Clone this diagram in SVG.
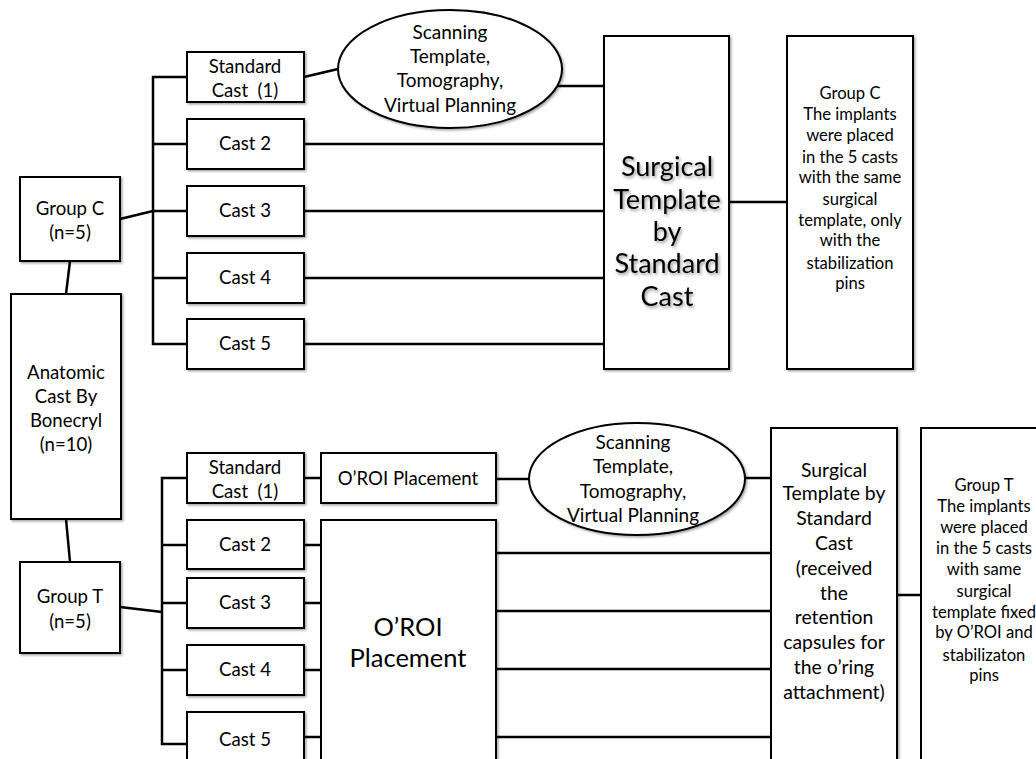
<svg xmlns="http://www.w3.org/2000/svg" width="1036" height="759" viewBox="0 0 1036 759">
<defs>
<filter id="sh" x="-10%" y="-10%" width="130%" height="130%">
<feDropShadow dx="1.5" dy="1.5" stdDeviation="1.2" flood-color="#000" flood-opacity="0.35"/>
</filter>
<filter id="tsh" x="-10%" y="-10%" width="130%" height="130%">
<feDropShadow dx="1.5" dy="2" stdDeviation="1.5" flood-color="#000" flood-opacity="0.4"/>
</filter>
</defs>
<style>
.b{fill:#fff;stroke:#000;stroke-width:2;filter:url(#sh)}
.c{fill:none;stroke:#000;stroke-width:2.5}
text{font-family:Lato,"Open Sans","Liberation Sans",sans-serif;fill:#000;text-anchor:middle;white-space:pre}
.t16{font-size:18.6px}
.e{font-size:19px}
.t14{font-size:16.6px}
.t18{font-size:19.4px}
.big{font-size:27px;filter:url(#tsh)}
.big2{font-size:25.5px}
</style>
<rect width="1036" height="759" fill="#fff"/>
<g id="connectors">
<line class="c" x1="70" y1="261" x2="66" y2="294"/>
<line class="c" x1="66" y1="519" x2="70" y2="562"/>
<path class="c" d="M187 77H153V344H187M153 144H187M153 211H187M153 278H187"/>
<line class="c" x1="120" y1="219" x2="153" y2="211"/>
<line class="c" x1="304" y1="77" x2="338" y2="69"/>
<line class="c" x1="556" y1="86" x2="604" y2="86"/>
<path class="c" d="M304 144H604M304 211H604M304 278H604M304 344H604"/>
<line class="c" x1="729" y1="202" x2="787" y2="202"/>
<path class="c" d="M187 478H162V744H187M162 545H187M162 603H187M162 670H187"/>
<line class="c" x1="120" y1="607" x2="162" y2="612"/>
<path class="c" d="M304 478H321M304 545H321M304 603H321M304 670H321M304 737H321"/>
<line class="c" x1="496" y1="479" x2="530" y2="479"/>
<path class="c" d="M496 553H771M496 611H771M496 669H771M496 737H771"/>
<line class="c" x1="745" y1="478" x2="771" y2="478"/>
<line class="c" x1="897" y1="595" x2="921" y2="595"/>
</g>
<g id="groupC">
<rect class="b" x="20" y="177" width="100" height="84"/>
<text class="t16" x="70" y="215">Group C</text>
<text class="t16" x="70" y="239">(n=5)</text>
</g>
<g id="anatomic">
<rect class="b" x="11" y="294" width="110" height="225"/>
<text class="t16" x="66" y="379">Anatomic</text>
<text class="t16" x="66" y="403">Cast By</text>
<text class="t16" x="66" y="427">Bonecryl</text>
<text class="t16" x="66" y="451">(n=10)</text>
</g>
<g id="groupT">
<rect class="b" x="20" y="562" width="100" height="91"/>
<text class="t16" x="70" y="603">Group T</text>
<text class="t16" x="70" y="628">(n=5)</text>
</g>
<g id="c1">
<rect class="b" x="187" y="52" width="117" height="50"/>
<text class="t16" x="245" y="73">Standard</text>
<text class="t16" x="245" y="97">Cast  (1)</text>
</g>
<g id="c2"><rect class="b" x="187" y="119" width="117" height="50"/><text class="t16" x="245" y="150">Cast 2</text></g>
<g id="c3"><rect class="b" x="187" y="186" width="117" height="50"/><text class="t16" x="245" y="217">Cast 3</text></g>
<g id="c4"><rect class="b" x="187" y="253" width="117" height="50"/><text class="t16" x="245" y="284">Cast 4</text></g>
<g id="c5"><rect class="b" x="187" y="319" width="117" height="50"/><text class="t16" x="245" y="350">Cast 5</text></g>
<g id="scanC">
<ellipse class="b" cx="450" cy="69" rx="112" ry="59"/>
<text class="e" x="450" y="39">Scanning</text>
<text class="e" x="450" y="63">Template,</text>
<text class="e" x="450" y="87">Tomography,</text>
<text class="e" x="450" y="112">Virtual Planning</text>
</g>
<g id="surgC">
<rect class="b" x="604" y="36" width="125" height="333"/>
<text class="big" x="667" y="176">Surgical</text>
<text class="big" x="667" y="209">Template</text>
<text class="big" x="667" y="241">by</text>
<text class="big" x="667" y="273">Standard</text>
<text class="big" x="667" y="306">Cast</text>
</g>
<g id="resC">
<rect class="b" x="787" y="36" width="126" height="333"/>
<text class="t14" x="850" y="99">Group C</text>
<text class="t14" x="850" y="120">The implants</text>
<text class="t14" x="850" y="141">were placed</text>
<text class="t14" x="850" y="163">in the 5 casts</text>
<text class="t14" x="850" y="183">with the same</text>
<text class="t14" x="850" y="205">surgical</text>
<text class="t14" x="850" y="226">template, only</text>
<text class="t14" x="850" y="246">with the</text>
<text class="t14" x="850" y="269">stabilization</text>
<text class="t14" x="850" y="289">pins</text>
</g>
<g id="t1">
<rect class="b" x="187" y="453" width="117" height="50"/>
<text class="t16" x="245" y="474">Standard</text>
<text class="t16" x="245" y="498">Cast  (1)</text>
</g>
<g id="t2"><rect class="b" x="187" y="520" width="117" height="49"/><text class="t16" x="245" y="551">Cast 2</text></g>
<g id="t3"><rect class="b" x="187" y="578" width="117" height="50"/><text class="t16" x="245" y="609">Cast 3</text></g>
<g id="t4"><rect class="b" x="187" y="645" width="117" height="50"/><text class="t16" x="245" y="676">Cast 4</text></g>
<g id="t5"><rect class="b" x="187" y="712" width="117" height="50"/><text class="t16" x="245" y="746">Cast 5</text></g>
<g id="oroiSmall">
<rect class="b" x="321" y="453" width="175" height="50"/>
<text class="t16" x="408" y="485">O’ROI Placement</text>
</g>
<g id="oroiBig">
<rect class="b" x="321" y="520" width="175" height="260"/>
<text class="big2" x="408" y="636">O’ROI</text>
<text class="big2" x="408" y="667">Placement</text>
</g>
<g id="scanT">
<ellipse class="b" cx="637" cy="479" rx="108" ry="56"/>
<text class="e" x="633" y="449">Scanning</text>
<text class="e" x="633" y="473">Template,</text>
<text class="e" x="633" y="498">Tomography,</text>
<text class="e" x="633" y="522">Virtual Planning</text>
</g>
<g id="surgT">
<rect class="b" x="771" y="428" width="126" height="350"/>
<text class="t18" x="834" y="477">Surgical</text>
<text class="t18" x="834" y="500">Template by</text>
<text class="t18" x="834" y="525">Standard</text>
<text class="t18" x="834" y="550">Cast</text>
<text class="t18" x="834" y="575">(received</text>
<text class="t18" x="834" y="600">the</text>
<text class="t18" x="834" y="624">retention</text>
<text class="t18" x="834" y="649">capsules for</text>
<text class="t18" x="834" y="674">the o’ring</text>
<text class="t18" x="834" y="699">attachment)</text>
</g>
<g id="resT">
<rect class="b" x="921" y="428" width="130" height="350"/>
<text class="t14" x="984" y="491">Group T</text>
<text class="t14" x="984" y="512">The implants</text>
<text class="t14" x="984" y="533">were placed</text>
<text class="t14" x="984" y="554">in the 5 casts</text>
<text class="t14" x="984" y="575">with same</text>
<text class="t14" x="984" y="597">surgical</text>
<text class="t14" x="984" y="618">template fixed</text>
<text class="t14" x="984" y="638">by O’ROI and</text>
<text class="t14" x="984" y="661">stabilizaton</text>
<text class="t14" x="984" y="681">pins</text>
</g>
</svg>
